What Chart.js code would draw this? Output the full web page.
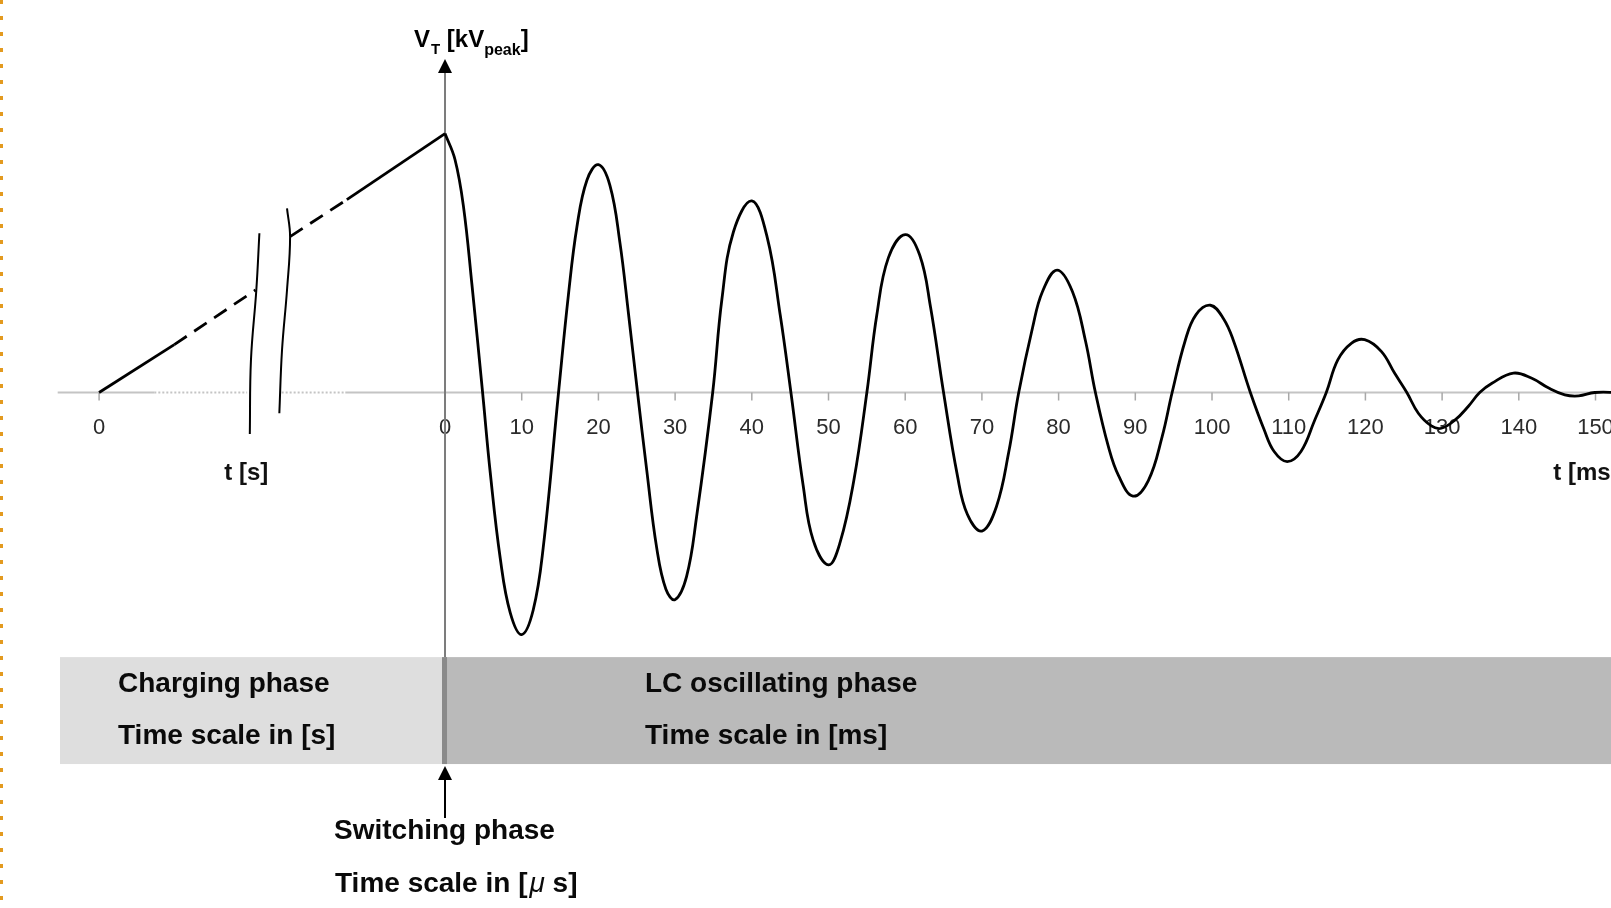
<!DOCTYPE html>
<html lang="en">
<head>
<meta charset="UTF-8">
<title>Charging, switching and LC oscillating phase</title>
<script src="https://cdn.jsdelivr.net/npm/chart.js"></script>
<style>
  html, body { margin: 0; padding: 0; background: #fff; }
  #wrap { position: relative; width: 1611px; height: 908px; }
  #edge { position: absolute; left: 0; top: 0; width: 3px; height: 908px;
    background: repeating-linear-gradient(to bottom, #e39a1f 0 4px, transparent 4px 16px); }
</style>
</head>
<body>
<div id="wrap">
  <canvas id="chart" width="1611" height="908"></canvas>
  <div id="edge"></div>
</div>
<script>
// LC oscillating phase: time in ms, V_T in % of the charging voltage
const oscTimeMs = [
  0, 1.3, 2.4, 3.5, 4.9, 5.9, 7.2, 8.5, 10, 11.5, 12.8, 14.8,
  16.1, 17.2, 18.5, 20, 21.5, 22.8, 23.9, 25.1, 26.3, 27.6, 28.8, 30,
  31.5, 32.8, 34.9, 36.1, 37.6, 40, 42, 43.7, 45.1, 46.7, 48, 50,
  51.5, 53.3, 55, 56.3, 57.8, 60, 61.9, 63.3, 65, 66.8, 68.1, 70,
  71.9, 73.5, 74.8, 76.6, 77.9, 79.8, 81.8, 83.5, 84.8, 86.5, 87.8, 89.7,
  91.7, 93.5, 94.8, 96.5, 97.9, 99.8, 101.5, 102.8, 105, 106.8, 108.1, 109.8,
  111.6, 113.4, 114.9, 116.4, 118.2, 119.9, 122.1, 123.8, 125.4, 126.9, 128.6, 129.9,
  131.7, 133.4, 134.9, 136.5, 139.3, 141.7, 143.9, 146, 147.8, 149.9, 153
];
const oscVoltage = [
  100, 90, 72, 42, 0, -31, -64, -85, -93.5, -84, -60, 0,
  38, 64, 82, 88, 80, 58, 31, 0, -30, -60, -76, -80,
  -71, -48, 0, 36, 62, 74, 60, 30, 0, -36, -57, -66.6,
  -58, -34, 0, 30, 52, 61, 53, 33, 0, -32, -47, -53.5,
  -44, -23, 0, 25, 39, 47.3, 39, 20, 0, -21, -32, -40,
  -34, -17, 0, 20, 30, 33.7, 28.5, 20, 0, -14.4, -22.8, -26.7,
  -22.8, -10.6, 0, 12.6, 19.1, 20.4, 15.8, 7.5, 0, -8, -12.9, -13.8,
  -10.6, -5.4, 0, 3.6, 7.5, 5.5, 1.7, -0.9, -1.3, 0, 0
];

// charging ramp, drawn on a compressed time axis left of t = 0
const rampStartX = [-45.1, -35.3, -24.7];
const rampStartV = [0, 18.5, 39.6];
const rampEndX = [-20.2, -12.8, 0];
const rampEndV = [60.2, 74.5, 100];

// axis break marks
const breakLeftX = [-24.2, -24.6, -25.3, -25.45];
const breakLeftV = [61.5, 39.6, 12.6, -16.0];
const breakRightX = [-20.6, -20.2, -20.6, -21.25, -21.6];
const breakRightV = [71.1, 60.2, 39.6, 16.4, -8.0];

// tick labels
const msTicks = [0, 10, 20, 30, 40, 50, 60, 70, 80, 90, 100, 110, 120, 130, 140, 150];
const chargeTicks = [-45.1];
const chargeTickLabels = ['0'];

const pts = (xs, ys) => xs.map((x, i) => ({ x: x, y: ys[i] }));
const FONT = '"Liberation Sans", Arial, sans-serif';

const decor = {
  id: 'decor',
  beforeDatasetsDraw(chart) {
    const { ctx, scales: { x, y } } = chart;
    const px = v => x.getPixelForValue(v);
    const py = v => y.getPixelForValue(v);
    const x0 = px(0), y0 = py(0);
    const bandTop = py(-102.2), bandBot = py(-143.5);
    ctx.save();

    // phase band
    ctx.fillStyle = '#dedede';
    ctx.fillRect(px(-50.2), bandTop, x0 - px(-50.2), bandBot - bandTop);
    ctx.fillStyle = '#bababa';
    ctx.fillRect(x0, bandTop, chart.width - x0, bandBot - bandTop);
    ctx.fillStyle = '#8a8a8a';
    ctx.fillRect(x0 - 3, bandTop, 5, bandBot - bandTop);

    // time axis (solid, dotted across the break)
    ctx.strokeStyle = '#c4c4c4';
    ctx.lineWidth = 2;
    const seg = (a, b, dash) => {
      ctx.setLineDash(dash);
      ctx.beginPath();
      ctx.moveTo(px(a), y0);
      ctx.lineTo(b === null ? chart.width : px(b), y0);
      ctx.stroke();
    };
    seg(-50.5, -37.9, []);
    seg(-37.9, -25.8, [2, 2]);
    seg(-21.3, -13.0, [2, 2]);
    seg(-13.0, null, []);
    ctx.setLineDash([]);

    // tick marks
    ctx.strokeStyle = '#a8a8a8';
    ctx.lineWidth = 1.5;
    msTicks.concat(chargeTicks).forEach(t => {
      ctx.beginPath();
      ctx.moveTo(px(t), y0);
      ctx.lineTo(px(t), y0 + 8);
      ctx.stroke();
    });

    // tick labels
    ctx.fillStyle = '#2b2b2b';
    ctx.font = '22px ' + FONT;
    ctx.textAlign = 'center';
    ctx.textBaseline = 'middle';
    msTicks.forEach(t => ctx.fillText(String(t), px(t), y0 + 35));
    chargeTicks.forEach((t, i) => ctx.fillText(chargeTickLabels[i], px(t), y0 + 35));

    // axis titles
    ctx.fillStyle = '#111';
    ctx.font = 'bold 24px ' + FONT;
    ctx.fillText('t [s]', px(-25.9), y0 + 81);
    ctx.textAlign = 'left';
    ctx.fillText('t [ms]', px(144.5), y0 + 81);

    // vertical voltage axis
    ctx.strokeStyle = '#7c7c7c';
    ctx.lineWidth = 2;
    ctx.beginPath();
    ctx.moveTo(x0, 72);
    ctx.lineTo(x0, bandTop);
    ctx.stroke();
    ctx.restore();
  },
  afterDatasetsDraw(chart) {
    const { ctx, scales: { x, y } } = chart;
    const x0 = x.getPixelForValue(0);
    const bandBot = y.getPixelForValue(-143.5);
    ctx.save();
    ctx.fillStyle = '#000';
    ctx.strokeStyle = '#000';

    const arrowUp = (tx, ty) => {
      ctx.beginPath();
      ctx.moveTo(tx, ty);
      ctx.lineTo(tx + 7, ty + 14);
      ctx.lineTo(tx - 7, ty + 14);
      ctx.closePath();
      ctx.fill();
    };
    arrowUp(x0, 59);
    arrowUp(x0, bandBot + 2);
    ctx.lineWidth = 2;
    ctx.beginPath();
    ctx.moveTo(x0, bandBot + 14);
    ctx.lineTo(x0, 818);
    ctx.stroke();

    // V_T [kV_peak]
    ctx.textAlign = 'left';
    ctx.textBaseline = 'alphabetic';
    let cx = 414;
    const part = (txt, size, base) => {
      ctx.font = 'bold ' + size + 'px ' + FONT;
      ctx.fillText(txt, cx, base);
      cx += ctx.measureText(txt).width;
    };
    part('V', 24, 47);
    cx += 1;
    part('T', 15, 54);
    part(' [kV', 24, 47);
    part('peak', 16, 55);
    part(']', 24, 47);

    // phase labels
    ctx.textBaseline = 'middle';
    ctx.fillStyle = '#0a0a0a';
    ctx.font = 'bold 28px ' + FONT;
    ctx.fillText('Charging phase', 118, 684);
    ctx.fillText('Time scale in [s]', 118, 736);
    ctx.fillText('LC oscillating phase', 645, 684);
    ctx.fillText('Time scale in [ms]', 645, 736);
    ctx.fillText('Switching phase', 334, 831);
    cx = 335;
    const head = 'Time scale in [';
    ctx.fillText(head, cx, 884);
    cx += ctx.measureText(head).width + 2;
    ctx.font = 'italic 28px ' + FONT;
    ctx.fillText('\u03bc', cx, 884);
    cx += ctx.measureText('\u03bc').width;
    ctx.font = 'bold 28px ' + FONT;
    ctx.fillText(' s]', cx, 884);
    ctx.restore();
  }
};

const dashAt = k => ctx => (ctx.p0DataIndex === k ? [15, 9] : undefined);

new Chart(document.getElementById('chart'), {
  type: 'line',
  data: {
    datasets: [
      {
        label: 'LC oscillation',
        data: pts(oscTimeMs, oscVoltage),
        borderColor: '#000',
        borderWidth: 2.8,
        pointRadius: 0,
        tension: 0.4
      },
      {
        label: 'Charging (start)',
        data: pts(rampStartX, rampStartV),
        borderColor: '#000',
        borderWidth: 2.8,
        pointRadius: 0,
        borderCapStyle: 'butt',
        segment: { borderDash: dashAt(1) }
      },
      {
        label: 'Charging (end)',
        data: pts(rampEndX, rampEndV),
        borderColor: '#000',
        borderWidth: 2.8,
        pointRadius: 0,
        borderCapStyle: 'butt',
        segment: { borderDash: dashAt(0) }
      },
      {
        label: 'Break left',
        data: pts(breakLeftX, breakLeftV),
        borderColor: '#000',
        borderWidth: 2,
        pointRadius: 0,
        tension: 0.4
      },
      {
        label: 'Break right',
        data: pts(breakRightX, breakRightV),
        borderColor: '#000',
        borderWidth: 2,
        pointRadius: 0,
        tension: 0.4
      }
    ]
  },
  options: {
    responsive: false,
    devicePixelRatio: 1,
    animation: false,
    layout: { padding: 0 },
    plugins: { legend: { display: false }, tooltip: { enabled: false } },
    scales: {
      x: { type: 'linear', min: -58.02, max: 152.02, display: false },
      y: { type: 'linear', min: -199.1, max: 151.6, display: false }
    }
  },
  plugins: [decor]
});
</script>
</body>
</html>
